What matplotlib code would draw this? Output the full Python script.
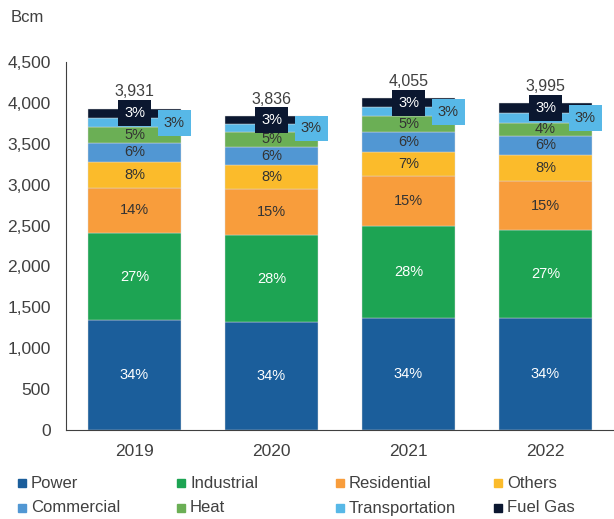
import numpy as np
import matplotlib.pyplot as plt
from matplotlib.patches import Rectangle

plt.rcParams["font.family"] = ["Liberation Sans", "DejaVu Sans"]

years = ["2019", "2020", "2021", "2022"]
sectors = ["Power", "Industrial", "Residential", "Others",
           "Commercial", "Heat", "Transportation", "Fuel Gas"]

power = [1340, 1320, 1375, 1365]
industrial = [1065, 1065, 1125, 1080]
residential = [560, 565, 605, 595]
others = [310, 290, 300, 320]
commercial = [240, 225, 235, 240]
heat = [185, 175, 195, 160]
transportation = [115, 98, 110, 115]
fuel_gas = [116, 98, 110, 120]

colors = ["#1B5E9B", "#1DA453", "#F89D3C", "#FBBB2B",
          "#5197D3", "#6BAF55", "#57B8E7", "#0B1730"]
text_colors = ["white", "white", "#333333", "#333333",
               "#333333", "#333333", "#333333", "white"]

series = [power, industrial, residential, others,
          commercial, heat, transportation, fuel_gas]
totals = np.sum(series, axis=0)

fig = plt.figure(figsize=(6.14, 5.19), dpi=100)
ax = fig.add_axes([0.1075, 0.1715, 0.8925, 0.709])

x = np.arange(len(years))
width = 0.68
bottom = np.zeros(len(years))
for i, vals in enumerate(series):
    vals = np.array(vals, dtype=float)
    ax.bar(x, vals, width, bottom=bottom, color=colors[i], edgecolor="#dddddd", linewidth=0.3)
    for j in range(len(years)):
        pct = f"{round(vals[j] / totals[j] * 100)}%"
        yc = bottom[j] + vals[j] / 2
        if sectors[i] == "Transportation":
            ax.text(x[j] + 0.29, yc, pct, ha="center", va="center", fontsize=10.5,
                    color="#333333",
                    bbox=dict(boxstyle="square,pad=0.4", fc=colors[i], ec="none"))
        elif sectors[i] == "Fuel Gas":
            ax.text(x[j], yc, pct, ha="center", va="center", fontsize=10.5,
                    color="white",
                    bbox=dict(boxstyle="square,pad=0.4", fc=colors[i], ec="none"))
        else:
            ax.text(x[j], yc, pct, ha="center", va="center", fontsize=10.5,
                    color=text_colors[i])
    bottom += vals

for j in range(len(years)):
    ax.text(x[j], totals[j] + 120, f"{totals[j]:,}", ha="center", va="bottom",
            fontsize=11.5, color="#404040")

ax.set_xlim(-0.5, 3.5)
ax.set_ylim(0, 4500)
ax.set_yticks(np.arange(0, 4501, 500))
ax.set_yticklabels([f"{v:,}" for v in range(0, 4501, 500)])
ax.set_xticks(x)
ax.set_xticklabels(years)
ax.tick_params(axis="both", length=0, labelsize=12.5, colors="#404040")
ax.tick_params(axis="y", pad=11)
ax.tick_params(axis="x", pad=10)
for s in ["top", "right"]:
    ax.spines[s].set_visible(False)
ax.spines["left"].set_color("#404040")
ax.spines["bottom"].set_color("#404040")

fig.text(11 / 614, 1 - 18 / 519, "Bcm", fontsize=12, color="#404040", va="center")

# legend drawn by hand: 2 rows x 4 fixed columns
col_x = [18, 177, 336, 494]
row_y = [483, 508]
sq = 8
for k, name in enumerate(sectors):
    px = col_x[k % 4]
    py = row_y[k // 4]
    fig.add_artist(Rectangle((px / 614, 1 - (py + sq / 2) / 519), sq / 614, sq / 519,
                             transform=fig.transFigure, color=colors[k]))
    fig.text((px + sq + 5) / 614, 1 - py / 519, name, fontsize=12,
             color="#404040", va="center")

fig.savefig("out.png", dpi=100)
